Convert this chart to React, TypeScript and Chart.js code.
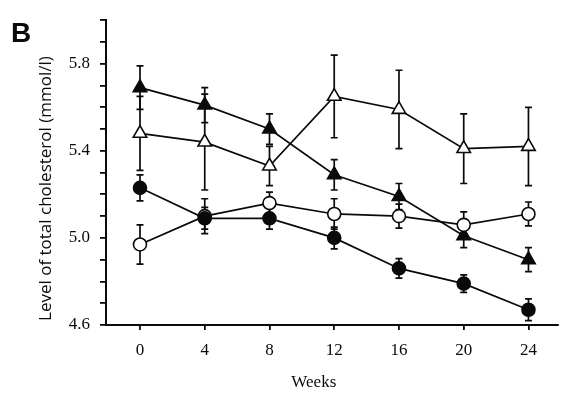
import React, { useEffect, useRef } from "react";
import { Chart, registerables } from "chart.js";

Chart.register(...registerables);

const weeks = [0, 4, 8, 12, 16, 20, 24];

const filledTriangle = [5.69, 5.61, 5.5, 5.29, 5.19, 5.01, 4.9];
const filledTriangleSE = [0.1, 0.08, 0.07, 0.07, 0.06, 0.055, 0.055];

const openTriangle = [5.48, 5.44, 5.33, 5.65, 5.59, 5.41, 5.42];
const openTriangleSE = [0.17, 0.22, 0.09, 0.19, 0.18, 0.16, 0.18];

const filledCircle = [5.23, 5.09, 5.09, 5.0, 4.86, 4.79, 4.67];
const filledCircleSE = [0.06, 0.05, 0.05, 0.05, 0.045, 0.04, 0.05];

const openCircle = [4.97, 5.1, 5.16, 5.11, 5.1, 5.06, 5.11];
const openCircleSE = [0.09, 0.08, 0.05, 0.07, 0.055, 0.06, 0.055];

const yTickValues = [4.6, 4.7, 4.8, 4.9, 5.0, 5.1, 5.2, 5.3, 5.4, 5.5, 5.6, 5.7, 5.8, 5.9, 6.0];
const yTickLabels = ["4.6", "5.0", "5.4", "5.8"];

const xTitle = "Weeks";
const yTitle = "Level of total cholesterol (mmol/l)";
const panelLabel = "B";

const INK = "#0a0a0a";
const SERIF = '"Liberation Serif", "Times New Roman", serif';
const SANS = '"Open Sans", "Noto Sans", sans-serif';

const errorBarPlugin = {
  id: "errorBars",
  beforeDatasetsDraw(chart: any) {
    const { ctx } = chart;
    const xs = chart.scales.x;
    const ys = chart.scales.y;
    ctx.save();
    ctx.strokeStyle = INK;
    ctx.lineWidth = 1.7;
    chart.data.datasets.forEach((ds: any) => {
      const errs: number[] = ds.errors || [];
      ds.data.forEach((p: any, j: number) => {
        const e = errs[j] || 0;
        const px = xs.getPixelForValue(p.x);
        const top = ys.getPixelForValue(p.y + e);
        const bot = ys.getPixelForValue(p.y - e);
        ctx.beginPath();
        ctx.moveTo(px, top);
        ctx.lineTo(px, bot);
        ctx.moveTo(px - 3.5, top);
        ctx.lineTo(px + 3.5, top);
        ctx.moveTo(px - 3.5, bot);
        ctx.lineTo(px + 3.5, bot);
        ctx.stroke();
      });
    });
    ctx.restore();
  },
};

const textPlugin = {
  id: "panelTexts",
  afterDraw(chart: any) {
    const { ctx, chartArea } = chart;
    ctx.save();
    ctx.fillStyle = INK;
    ctx.font = 'bold 28px "Liberation Sans", Arial, sans-serif';
    ctx.textAlign = "left";
    ctx.textBaseline = "alphabetic";
    ctx.fillText(panelLabel, 11, 42);

    ctx.font = `17px ${SERIF}`;
    ctx.textAlign = "center";
    ctx.textBaseline = "middle";
    const cx = (chartArea.left + chartArea.right) / 2 - 18;
    ctx.fillText(xTitle, cx, chart.height - 13);

    ctx.font = `17px ${SANS}`;
    const cy = (chartArea.top + chartArea.bottom) / 2 + 16;
    ctx.translate(46, cy);
    ctx.rotate(-Math.PI / 2);
    ctx.fillText(yTitle, 0, 0);
    ctx.restore();
  },
};

function series(vals: number[], errs: number[], style: string, filled: boolean, radius: number) {
  return {
    data: weeks.map((w, i) => ({ x: w, y: vals[i] })),
    errors: errs,
    borderColor: INK,
    borderWidth: 1.7,
    tension: 0,
    fill: false,
    pointStyle: style,
    pointRadius: radius,
    pointBorderWidth: 1.6,
    pointBorderColor: INK,
    pointBackgroundColor: filled ? INK : "#fff",
  };
}

export default function App() {
  const ref = useRef<HTMLCanvasElement | null>(null);

  useEffect(() => {
    if (!ref.current) return;
    const chart = new Chart(ref.current, {
      type: "line",
      data: {
        datasets: [
          series(filledCircle, filledCircleSE, "circle", true, 6.5),
          series(openCircle, openCircleSE, "circle", false, 6.5),
          series(filledTriangle, filledTriangleSE, "triangle", true, 7.8),
          series(openTriangle, openTriangleSE, "triangle", false, 7.8),
        ] as any,
      },
      options: {
        responsive: false,
        animation: false,
        layout: { padding: { left: 0, top: 16, right: 7, bottom: 0 } },
        plugins: { legend: { display: false }, tooltip: { enabled: false } },
        scales: {
          x: {
            type: "linear",
            min: -2.1,
            max: 25.8,
            afterBuildTicks: (s: any) => {
              s.ticks = weeks.map((v) => ({ value: v }));
            },
            afterFit: (s: any) => {
              s.height = 71;
            },
            grid: { drawOnChartArea: false, drawTicks: true, tickLength: 5, color: INK, lineWidth: 1.8 },
            border: { display: true, color: INK, width: 2 },
            ticks: {
              color: INK,
              font: { family: SERIF, size: 17 },
              padding: 10,
              maxRotation: 0,
              autoSkip: false,
              callback: (v: any) => String(v),
            },
            title: { display: false },
          },
          y: {
            type: "linear",
            min: 4.6,
            max: 6.0,
            afterBuildTicks: (s: any) => {
              s.ticks = yTickValues.map((v) => ({ value: v }));
            },
            afterFit: (s: any) => {
              s.width = 106;
            },
            grid: { drawOnChartArea: false, drawTicks: true, tickLength: 6, color: INK, lineWidth: 1.8 },
            border: { display: true, color: INK, width: 2 },
            ticks: {
              color: INK,
              font: { family: SERIF, size: 17 },
              padding: 10,
              autoSkip: false,
              callback: (v: any) => {
                const lbl = yTickLabels.find((l) => Math.abs(parseFloat(l) - Number(v)) < 1e-6);
                return lbl !== undefined ? lbl : "";
              },
            },
            title: { display: false },
          },
        },
      } as any,
      plugins: [errorBarPlugin, textPlugin],
    });
    return () => chart.destroy();
  }, []);

  return (
    <div style={{ position: "absolute", left: 0, top: 0, width: 567, height: 396, background: "#fff" }}>
      <canvas ref={ref} width={567} height={396} style={{ display: "block" }} />
    </div>
  );
}
